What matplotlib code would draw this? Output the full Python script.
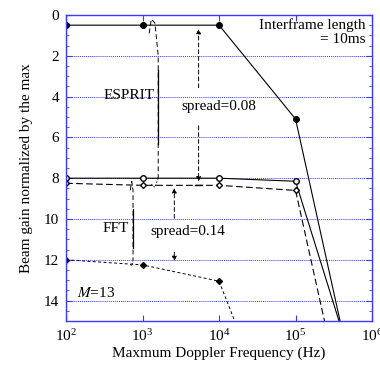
import matplotlib.pyplot as plt
from matplotlib.ticker import MultipleLocator, LogLocator, NullLocator

plt.rcParams['font.family'] = ['Liberation Serif', 'DejaVu Serif']
plt.rcParams['mathtext.fontset'] = 'stix'

# ESPRIT curves
esprit_x = [1e2, 1e3, 1e4, 1e5, 1e6]
esprit_top = [0.5, 0.5, 0.5, 5.1, 22.1]
esprit_low_x = [1e2, 1e3, 1e4, 1e5, 1e6]
esprit_low = [8.0, 8.0, 8.0, 8.15, 20.2]

# FFT curves
fft_x = [1e2, 1e3, 1e4, 1e5, 1e6]
fft_top = [8.25, 8.35, 8.35, 8.6, 25.5]
fft_low_x = [1e2, 1e3, 1e4, 1e5]
fft_low = [12.0, 12.25, 13.05, 22.6]

blue = '#3a3aff'

fig = plt.figure(figsize=(3.8, 3.65), dpi=100)
ax = fig.add_axes([0.174, 0.1205, 0.805, 0.8385])

# horizontal grid
for g in range(2, 15, 2):
    ax.axhline(g, color=blue, lw=0.7, ls=(0, (1, 1)), zorder=0)

ax.plot(esprit_x, esprit_top, '-', color='k', lw=0.8, marker='o', ms=4,
        mfc='k')
ax.plot(esprit_low_x, esprit_low, '-', color='k', lw=0.8, marker='o', ms=4,
        mfc='white')
ax.plot(fft_x, fft_top, color='k', lw=0.8, ls=(0, (6, 3)), marker='D', ms=3,
        mfc='white')
ax.plot(fft_low_x, fft_low, color='k', lw=0.7, ls=(0, (3, 2.5)), marker='D',
        ms=3, mfc='k')

# ESPRIT brace
bx = 1.6e3
ax.plot([1.22e3, 1.3e3, 1.45e3, bx, bx], [0.9, 0.2, 0.4, 2.0, 8.0], color='k',
        lw=0.7, ls=(0, (5, 3)))
ax.plot([bx, bx], [2.7, 6.3], color='k', lw=0.9)
ax.plot([bx, 1.45e3, 1.3e3], [8.0, 8.45, 8.3], color='k', lw=0.6, ls=(0, (2, 2)))

# FFT brace
fx = 750
ax.plot([690, 720, fx, fx], [8.6, 8.15, 8.6, 12.0], color='k', lw=0.7,
        ls=(0, (5, 3)))
ax.plot([fx, fx], [9.5, 11.4], color='k', lw=0.9)
ax.plot([fx, 720, 690], [12.0, 12.3, 12.2], color='k', lw=0.6, ls=(0, (2, 2)))

# spread arrows
arrow = dict(arrowstyle='-|>', ls=(0, (4, 3)), lw=0.7, color='k',
             mutation_scale=7)
s1 = 5.4e3
ax.annotate('', xy=(s1, 0.55), xytext=(s1, 3.7), arrowprops=arrow)
ax.annotate('', xy=(s1, 8.3), xytext=(s1, 5.3), arrowprops=arrow)
ax.plot([s1 * 0.9, s1 * 1.11], [8.32, 8.32], color='k', lw=1.0)
s2 = 2.6e3
ax.annotate('', xy=(s2, 8.35), xytext=(s2, 10.1), arrowprops=arrow)
ax.annotate('', xy=(s2, 12.2), xytext=(s2, 11.5), arrowprops=arrow)

fs = 11
ax.text(660, 3.95, 'ESPRIT', fontsize=fs, ha='center', va='center')
ax.text(440, 10.45, 'FFT', fontsize=fs, ha='center', va='center')
ax.text(3.2e3, 4.5, 'spread=0.08', fontsize=fs, ha='left', va='center')
ax.text(1.25e3, 10.6, 'spread=0.14', fontsize=fs, ha='left', va='center')
ax.text(8.2e5, 0.15, 'Interframe length\n= 10ms', fontsize=fs, ha='right',
        va='top', multialignment='right', linespacing=1.1)
ax.text(138, 13.65, '$M$=13', fontsize=fs, ha='left', va='center')

ax.set_xscale('log')
ax.set_xlim(1e2, 1e6)
ax.set_ylim(15, 0)
ax.xaxis.set_major_locator(LogLocator(base=10, numticks=10))
ax.xaxis.set_minor_locator(NullLocator())
ax.yaxis.set_minor_locator(MultipleLocator(0.5))
ax.set_yticks(range(0, 15, 2))

for s in ax.spines.values():
    s.set_color(blue)
    s.set_linewidth(1.0)
ax.tick_params(which='both', direction='in', color=blue, top=True, right=True,
               labelsize=fs)
ax.tick_params(which='major', length=4, pad=5)
ax.tick_params(which='minor', length=2.5)

ax.set_xlabel('Maxmum Doppler Frequency (Hz)', fontsize=fs, labelpad=2)
ax.set_ylabel('Beam gain normalized by the max', fontsize=fs, labelpad=8)

fig.savefig('out.png', dpi=100)
